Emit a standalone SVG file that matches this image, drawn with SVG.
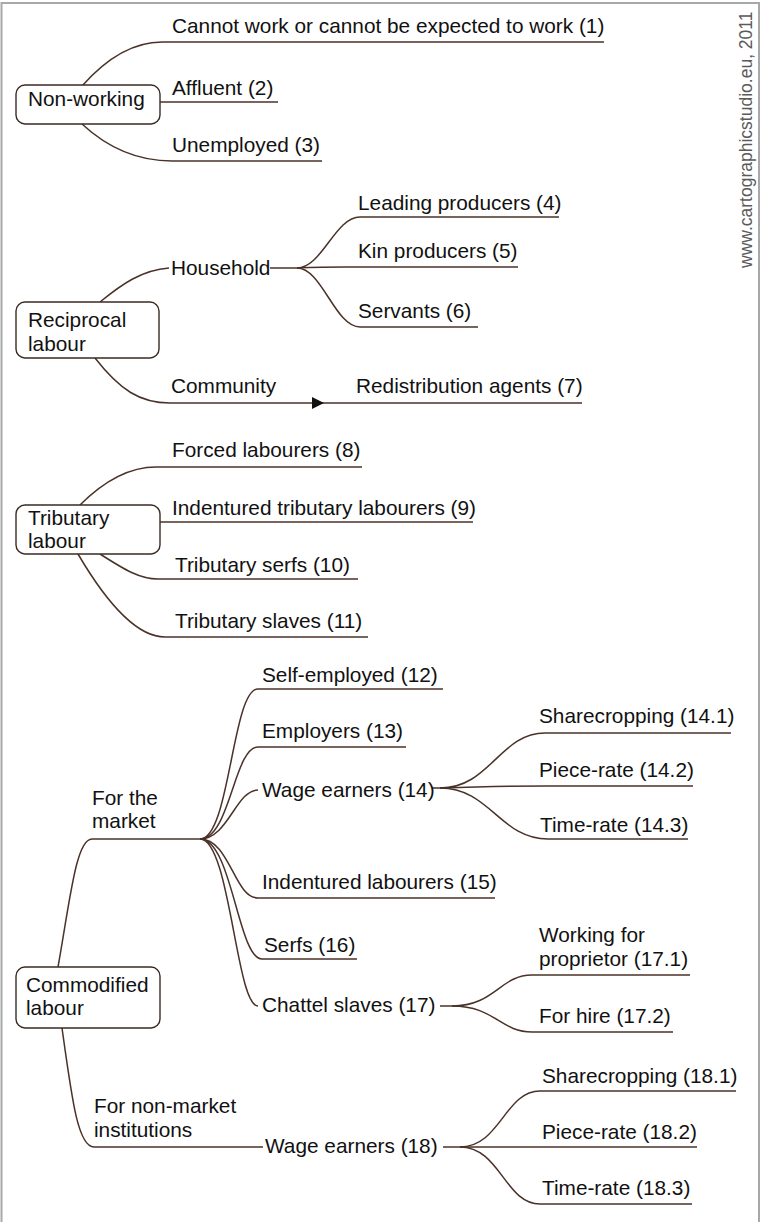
<svg xmlns="http://www.w3.org/2000/svg" width="761" height="1222" viewBox="0 0 761 1222">
<defs>
<style>
text{font-family:"Liberation Sans",Arial,sans-serif;font-size:20.8px;fill:#111}
.box{fill:#fff;stroke:#3b2a22;stroke-width:1.4}
.c{fill:none;stroke:#4a3228;stroke-width:1.5}
.wm{font-size:17.5px;fill:#5a5a5a}
</style>
</defs>
<rect width="761" height="1222" fill="#fff"/>
<path d="M1.5,1222 V3 H759 V1222" fill="none" stroke="#a8a8a8" stroke-width="2"/>
<text class="wm" transform="translate(752,268) rotate(-90)">www.cartographicstudio.eu, 2011</text>

<g id="connectors">
<path class="c" d="M82,86 C105,60 132,42 162,42 H604"/>
<path class="c" d="M160,102 H278"/>
<path class="c" d="M82,124 C110,150 140,161 172,161 H322"/>
<path class="c" d="M100,302 C122,284 142,270 169,268"/>
<path class="c" d="M270,268 H297"/>
<path class="c" d="M297,268 C322,268 335,217 360,217 H559"/>
<path class="c" d="M297,268 C310,267 330,267 345,267 H518"/>
<path class="c" d="M297,268 C322,268 335,327 360,327 H478"/>
<path class="c" d="M95,358 C120,390 140,403 170,403 H582"/>
<path d="M312,397 L324,403 L312,409 Z" fill="#111"/>
<path class="c" d="M80,505 C105,480 130,467 156,467 H362"/>
<path class="c" d="M160,522 H473"/>
<path class="c" d="M100,554 C125,570 140,579 158,579 H358"/>
<path class="c" d="M78,554 C105,600 135,637 165,637 H368"/>
<path class="c" d="M58,967 C70,900 76,839 92,839 H200"/>
<path class="c" d="M200,839 C230,839 232,689 258,689 H443"/>
<path class="c" d="M200,839 C230,839 234,747 258,747 H406"/>
<path class="c" d="M200,839 C228,839 236,790 258,790"/>
<path class="c" d="M432,788 H440"/>
<path class="c" d="M440,788 C490,788 500,733 545,733 H731"/>
<path class="c" d="M440,788 C470,787 500,786 545,786 H693"/>
<path class="c" d="M440,788 C490,788 500,839 548,839 H688"/>
<path class="c" d="M200,839 C230,839 234,898 258,898 H495"/>
<path class="c" d="M200,839 C232,839 238,959 262,959 H357"/>
<path class="c" d="M200,839 C230,839 236,1006 258,1006"/>
<path class="c" d="M440,1006 H452"/>
<path class="c" d="M452,1006 C495,1006 500,975 532,975 H690"/>
<path class="c" d="M452,1006 C495,1006 500,1032 532,1032 H673"/>
<path class="c" d="M62,1028 C72,1100 78,1147 94,1147 H263"/>
<path class="c" d="M443,1147 H460"/>
<path class="c" d="M460,1147 C500,1147 505,1091 540,1091 H736"/>
<path class="c" d="M460,1147 H697"/>
<path class="c" d="M460,1147 C500,1147 505,1204 540,1204 H692"/>
</g>

<g id="non-working"><rect class="box" x="16" y="85" width="144" height="39" rx="9"/><text x="28" y="106">Non-working</text></g>
<g id="n1"><text x="172" y="33">Cannot work or cannot be expected to work (1)</text></g>
<g id="n2"><text x="172" y="95">Affluent (2)</text></g>
<g id="n3"><text x="172" y="152">Unemployed (3)</text></g>

<g id="reciprocal"><rect class="box" x="16" y="302" width="143" height="56" rx="9"/><text x="28" y="327">Reciprocal</text><text x="28" y="351">labour</text></g>
<g id="household"><text x="171" y="275">Household</text></g>
<g id="n4"><text x="358" y="210">Leading producers (4)</text></g>
<g id="n5"><text x="358" y="258">Kin producers (5)</text></g>
<g id="n6"><text x="358" y="318">Servants (6)</text></g>
<g id="community"><text x="171" y="393">Community</text></g>
<g id="n7"><text x="356" y="393">Redistribution agents (7)</text></g>

<g id="tributary"><rect class="box" x="16" y="505" width="144" height="49" rx="9"/><text x="28" y="525">Tributary</text><text x="28" y="548">labour</text></g>
<g id="n8"><text x="172" y="457">Forced labourers (8)</text></g>
<g id="n9"><text x="172" y="515">Indentured tributary labourers (9)</text></g>
<g id="n10"><text x="175" y="572">Tributary serfs (10)</text></g>
<g id="n11"><text x="175" y="628">Tributary slaves (11)</text></g>

<g id="commodified"><rect class="box" x="16" y="967" width="144" height="61" rx="9"/><text x="26" y="992">Commodified</text><text x="26" y="1015">labour</text></g>
<g id="for-market"><text x="92" y="805">For the</text><text x="92" y="828">market</text></g>
<g id="n12"><text x="262" y="682">Self-employed (12)</text></g>
<g id="n13"><text x="262" y="738">Employers (13)</text></g>
<g id="n14"><text x="262" y="797">Wage earners (14)</text></g>
<g id="n14-1"><text x="539" y="723">Sharecropping (14.1)</text></g>
<g id="n14-2"><text x="539" y="777">Piece-rate (14.2)</text></g>
<g id="n14-3"><text x="540" y="832">Time-rate (14.3)</text></g>
<g id="n15"><text x="262" y="889">Indentured labourers (15)</text></g>
<g id="n16"><text x="264" y="952">Serfs (16)</text></g>
<g id="n17"><text x="262" y="1012">Chattel slaves (17)</text></g>
<g id="n17-1"><text x="539" y="942">Working for</text><text x="539" y="966">proprietor (17.1)</text></g>
<g id="n17-2"><text x="539" y="1023">For hire (17.2)</text></g>
<g id="non-market"><text x="94" y="1113">For non-market</text><text x="94" y="1137">institutions</text></g>
<g id="n18"><text x="265" y="1153">Wage earners (18)</text></g>
<g id="n18-1"><text x="542" y="1083">Sharecropping (18.1)</text></g>
<g id="n18-2"><text x="542" y="1139">Piece-rate (18.2)</text></g>
<g id="n18-3"><text x="542" y="1195">Time-rate (18.3)</text></g>
</svg>
